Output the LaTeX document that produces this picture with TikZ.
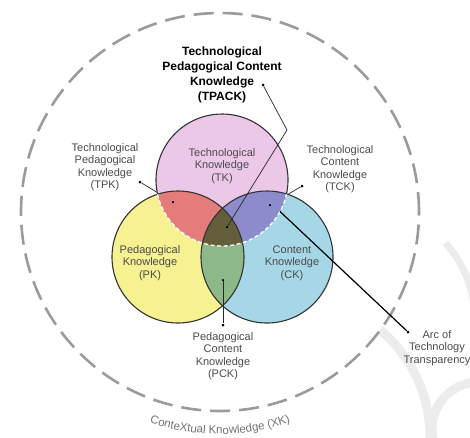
\documentclass[tikz,border=0pt]{standalone}
\usepackage{fontspec}
\setmainfont{Liberation Sans}
\usetikzlibrary{decorations.text,backgrounds}

\definecolor{tkfill}{RGB}{236,200,232}
\definecolor{pkfill}{RGB}{246,241,145}
\definecolor{ckfill}{RGB}{165,215,230}
\definecolor{tpkfill}{RGB}{228,124,124}
\definecolor{tckfill}{RGB}{140,140,205}
\definecolor{pckfill}{RGB}{140,185,135}
\definecolor{tpackfill}{RGB}{100,95,58}
\definecolor{labelgray}{RGB}{75,75,75}
\definecolor{contextgray}{RGB}{155,155,155}
\definecolor{xkgray}{RGB}{115,115,115}
\definecolor{ringgray}{RGB}{236,236,236}

\newcommand{\xkfont}{\fontsize{11.5}{13}\selectfont\color{xkgray}}

\begin{document}
\begin{tikzpicture}[
        x=1pt, y=1pt,
        label/.style={align=center, text=labelgray, font=\fontsize{11}{12.3}\selectfont, inner sep=0},
        title/.style={align=center, font=\bfseries\fontsize{12}{15.2}\selectfont, inner sep=0},
        dot/.style={circle, fill=black, inner sep=0, minimum size=3pt},
        leader/.style={black!85, line width=0.7pt},
        outline/.style={black!80, line width=1.1pt},
        transparent arc/.style={white, line width=1.3pt, dash pattern=on 4pt off 2.5pt},
        ring/.style={ringgray, line width=9pt}
    ]
    \useasboundingbox (0,0) rectangle (470,-437);

    % faint rings in the corner
    \draw[ring] (290,-437) ++(50:140) arc[start angle=50, end angle=-5, radius=140];
    \draw[ring] (479,-429) circle (47);
    \draw[ring, line width=7pt] (360,-320) ++(42:115) arc[start angle=42, end angle=5, radius=115];

    % context
    \coordinate (context) at (220,-212);
    \draw[contextgray, line width=2.6pt, dash pattern=on 20pt off 9pt] (context) circle (199);
    \path[decorate, decoration={text along path, text align=center,
            text={|\xkfont|ConteXtual Knowledge (XK)}}]
        (context) ++(238:222) arc[start angle=238, end angle=302, radius=222];

    % the three knowledge circles
    \coordinate (tk) at (222,-180);
    \coordinate (pk) at (178,-257);
    \coordinate (ck) at (267,-257);

    \fill[tkfill] (tk) circle (66);
    \fill[pkfill] (pk) circle (66);
    \fill[ckfill] (ck) circle (66);
    \begin{scope}
        \clip (pk) circle (66);
        \fill[pckfill] (ck) circle (66);
    \end{scope}
    \begin{scope}
        \clip (tk) circle (66);
        \fill[tpkfill] (pk) circle (66);
        \fill[tckfill] (ck) circle (66);
        \clip (pk) circle (66);
        \fill[tpackfill] (ck) circle (66);
    \end{scope}

    \draw[outline] (pk) circle (66);
    \draw[outline] (ck) circle (66);
    \draw[outline] (tk) ++(-12.4:66) arc[start angle=-12.4, end angle=192.4, radius=66];
    \draw[transparent arc] (tk) ++(192.4:66) arc[start angle=192.4, end angle=347.6, radius=66];
    \path (tk) ++(-28.5:66) coordinate (arcpt);

    % labels
    \node[title] (tpack) at (222,-75) {Technological\\Pedagogical Content\\Knowledge\\(TPACK)};
    \node[label] (tklabel) at (222,-166) {Technological\\Knowledge\\(TK)};
    \node[label] (pklabel) at (150,-263) {Pedagogical\\Knowledge\\(PK)};
    \node[label] (cklabel) at (292,-263) {Content\\Knowledge\\(CK)};
    \node[label] (tpklabel) at (105,-167) {Technological\\Pedagogical\\Knowledge\\(TPK)};
    \node[label] (tcklabel) at (340,-169) {Technological\\Content\\Knowledge\\(TCK)};
    \node[label] (pcklabel) at (223,-356) {Pedagogical\\Content\\Knowledge\\(PCK)};
    \node[label] (arclabel) at (437,-348) {Arc of\\Technology\\Transparency};

    % leader dots
    \node[dot] (tpackdot) at (263,-85) {};
    \node[dot] (tpkdot) at (140,-182) {};
    \node[dot] (tckdot) at (302,-186) {};
    \node[dot] (pckdot) at (223,-325) {};
    \node[dot] (arcdot) at (408,-332) {};
    \node[dot, minimum size=2.5pt] (tpkpt) at (173,-202) {};
    \node[dot, minimum size=2.5pt] (tckpt) at (270,-205) {};
    \node[dot, minimum size=2.5pt] (tpackpt) at (227,-227) {};
    \node[dot, minimum size=2.5pt] (pckpt) at (223,-280) {};
    \coordinate (tpackbend) at (287,-130);

    \begin{scope}[on background layer]
        \draw[leader] (tpkdot) -- (tpkpt);
        \draw[leader] (tckdot) -- (tckpt);
    \end{scope}
    \draw[leader] (tpackdot) -- (tpackbend) -- (tpackpt);
    \draw[leader] (pckpt) -- (pckdot);
    \draw[black, line width=1.2pt] (arcpt) -- (arcdot);
\end{tikzpicture}
\end{document}
